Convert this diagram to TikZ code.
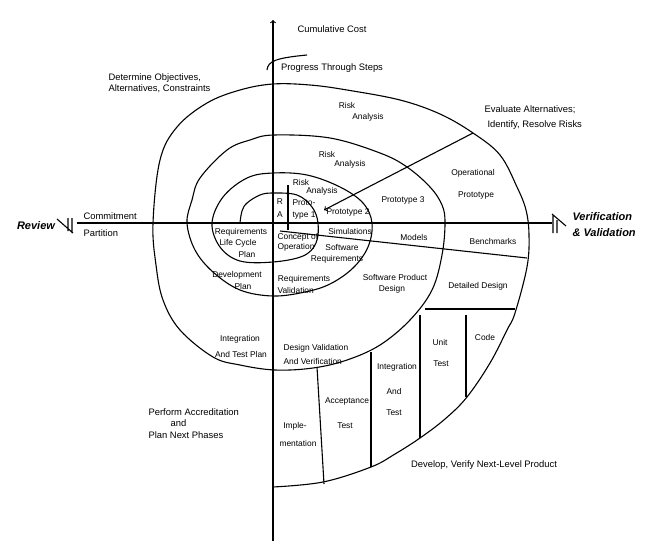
\documentclass[tikz,border=0pt]{standalone}
\usepackage{fontspec}
\setmainfont{Liberation Sans}

\tikzset{
	lbl/.style={font=\fontsize{8.4}{10}\selectfont, inner sep=0pt},
	big/.style={font=\fontsize{9.4}{11}\selectfont, inner sep=0pt},
	bigit/.style={font=\fontsize{11}{13}\selectfont\bfseries\itshape, inner sep=0pt}
}

\begin{document}
\begin{tikzpicture}[x=1pt, y=1pt, yscale=-1, line width=1.1pt]
	\useasboundingbox (0,0) rectangle (650,541);

	% axes
	\coordinate (ytop) at (273,20);
	\coordinate (ybot) at (273,541);
	\coordinate (xl) at (77,223);
	\coordinate (xr) at (552,223);
	\draw [->] (ybot) -- (ytop);
	\draw (xl) -- (xr);

	% review and V&V marks
	\draw (57,219) -- (73,233) (68,218) -- (68,231) (72,218) -- (72,233);
	\draw (552,214) -- (566,226) (553,215) -- (553,233) (557,220) -- (557,233);

	% progress arrow
	\draw (267,70) .. controls (268,61) and (276,58) .. (307,55);

	% the spiral
	\draw plot [smooth, tension=0.6] coordinates {
		(240,223) (242,211) (247,203) (260,195) (273,193) (297,195) (312,207) (318,223)
		(316,243) (303,256) (273,262) (240,261) (220,247) (212,223)
		(223,197) (247,178) (273,173) (307,175) (340,187) (363,203) (372,223)
		(368,247) (353,268) (330,284) (305,292) (273,296) (240,290) (213,272) (195,250) (187,223)
		(192,200) (200,178) (227,150) (250,140) (274,135) (330,138) (380,153) (407,167) (430,187) (442,205) (445,223)
		(442,255) (432,290) (410,320) (380,345) (347,360) (313,368) (275,370) (240,365) (213,357) (180,330) (163,300) (156,265) (153,223)
		(160,160) (177,127) (207,103) (240,90) (273,84) (310,85) (347,90) (400,100) (440,114) (473,133) (500,155) (517,187) (526,210) (529,235)
		(527,267) (515,313) (507,330) (490,363) (467,397) (445,419) (420,438) (395,454) (371,467) (323,482) (273,487)
	};

	% dividers
	\draw [->] (473,133) -- (324,210);
	\draw (280,231) -- (527,258);
	\draw (288,185) -- (288,230);
	\draw (425,309) -- (515,309);
	\draw (466,315) -- (466,397);
	\draw (420,315) -- (420,438);
	\draw (371,352) -- (371,467);
	\draw (317,367) -- (324,484);

	% quadrant texts
	\node [big] (cost) at (332,29) {Cumulative Cost};
	\node [big] (steps) at (332,68) {Progress Through Steps};
	\node [big, anchor=west] (obj1) at (108,78) {Determine Objectives,};
	\node [big, anchor=west] (obj2) at (108,89) {Alternatives, Constraints};
	\node [big, anchor=west] (eval1) at (484,110) {Evaluate Alternatives;};
	\node [big, anchor=west] (eval2) at (487,125) {Identify, Resolve Risks};
	\node [big, anchor=west] (commit) at (83,216) {Commitment};
	\node [big, anchor=west] (part) at (83,233) {Partition};
	\node [bigit] (review) at (36,226) {Review};
	\node [bigit, anchor=west] (vv1) at (572,217) {Verification};
	\node [bigit, anchor=west] (vv2) at (572,233) {\& Validation};
	\node [big, anchor=west] (acc1) at (148,412) {Perform Accreditation};
	\node [big, anchor=west] (acc2) at (170,423) {and};
	\node [big, anchor=west] (acc3) at (148,435) {Plan Next Phases};
	\node [big] (dev) at (484,465) {Develop, Verify Next-Level Product};

	% risk analysis and prototypes
	\node [lbl] (ra1a) at (347,105) {Risk};
	\node [lbl] (ra1b) at (368,117) {Analysis};
	\node [lbl] (ra2a) at (327,154) {Risk};
	\node [lbl] (ra2b) at (350,164) {Analysis};
	\node [lbl] (ra3a) at (301,182) {Risk};
	\node [lbl] (ra3b) at (322,191) {Analysis};
	\node [lbl] (rr) at (280,202) {R};
	\node [lbl] (aa) at (280,215) {A};
	\node [lbl, anchor=west] (p1a) at (292,203) {Proto-};
	\node [lbl, anchor=west] (p1b) at (292,215) {type 1};
	\node [lbl] (p2) at (348,212) {Prototype 2};
	\node [lbl] (p3) at (403,200) {Prototype 3};
	\node [lbl] (op1) at (473,173) {Operational};
	\node [lbl] (op2) at (476,195) {Prototype};

	% development
	\node [lbl] (sim) at (350,231) {Simulations};
	\node [lbl] (mod) at (414,237) {Models};
	\node [lbl] (bench) at (493,241) {Benchmarks};
	\node [lbl, anchor=west] (con1) at (277,237) {Concept of};
	\node [lbl, anchor=west] (con2) at (277,247) {Operation};
	\node [lbl] (sw1) at (342,247) {Software};
	\node [lbl] (sw2) at (337,259) {Requirements};
	\node [lbl] (spd1) at (395,277) {Software Product};
	\node [lbl] (spd2) at (392,289) {Design};
	\node [lbl] (dd) at (478,286) {Detailed Design};
	\node [lbl] (code) at (485,337) {Code};
	\node [lbl] (ut1) at (440,342) {Unit};
	\node [lbl] (ut2) at (441,364) {Test};
	\node [lbl] (it1) at (397,367) {Integration};
	\node [lbl] (it2) at (394,391) {And};
	\node [lbl] (it3) at (394,413) {Test};
	\node [lbl] (at1) at (347,401) {Acceptance};
	\node [lbl] (at2) at (345,426) {Test};
	\node [lbl] (imp1) at (295,426) {Imple-};
	\node [lbl] (imp2) at (298,443) {mentation};

	% plans
	\node [lbl] (lc1) at (241,232) {Requirements};
	\node [lbl] (lc2) at (238,243) {Life Cycle};
	\node [lbl] (lc3) at (247,254) {Plan};
	\node [lbl] (dp1) at (237,275) {Development};
	\node [lbl] (dp2) at (243,286) {Plan};
	\node [lbl] (rv1) at (304,279) {Requirements};
	\node [lbl, anchor=west] (rv2) at (277,290) {Validation};
	\node [lbl] (itp1) at (240,339) {Integration};
	\node [lbl] (itp2) at (241,354) {And Test Plan};
	\node [lbl, anchor=west] (dvv1) at (283,348) {Design Validation};
	\node [lbl, anchor=west] (dvv2) at (283,361) {And Verification};
\end{tikzpicture}
\end{document}
